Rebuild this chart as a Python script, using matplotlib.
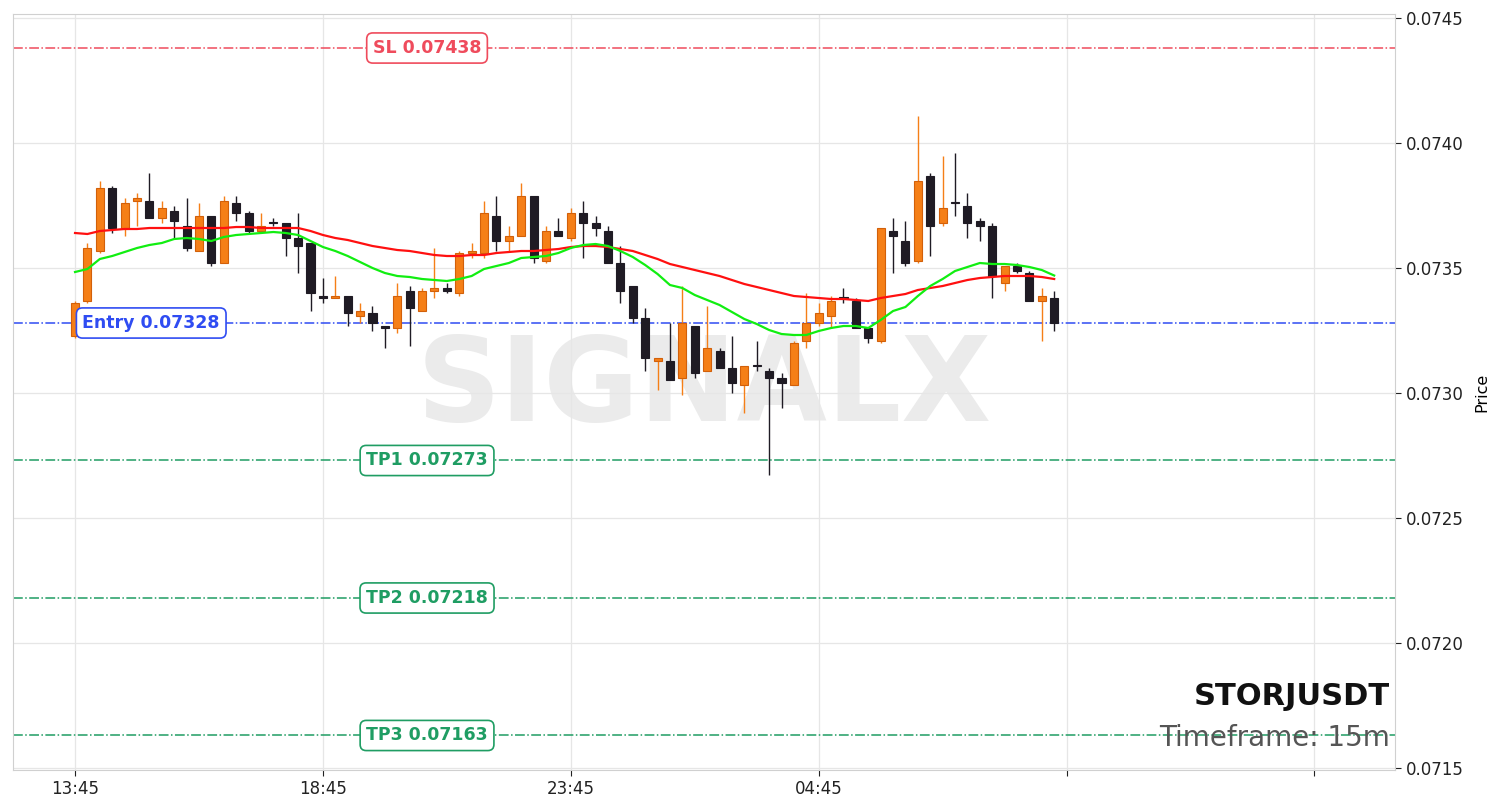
import matplotlib
matplotlib.use('Agg')
import matplotlib.pyplot as plt
import numpy as np

symbol = 'STORJUSDT'
timeframe = '15m'

# 15m candles, first one at 13:45
opens = [0.07323, 0.07337, 0.07357, 0.07382, 0.07366, 0.07377, 0.07377, 0.07370, 0.07373, 0.07367,
         0.07357, 0.07371, 0.07352, 0.07376, 0.07372, 0.07365, 0.07368, 0.07368, 0.07362, 0.07360,
         0.07339, 0.07338, 0.07339, 0.07331, 0.07332, 0.07327, 0.07326, 0.07341, 0.07333, 0.07341,
         0.07342, 0.07340, 0.07356, 0.07356, 0.07371, 0.07361, 0.07363, 0.07379, 0.07353, 0.07365,
         0.07362, 0.07372, 0.07368, 0.07365, 0.07352, 0.07343, 0.07330, 0.07313, 0.07313, 0.07306,
         0.07327, 0.07309, 0.07317, 0.07310, 0.07303, 0.07311, 0.07309, 0.07306, 0.07303, 0.07321,
         0.07328, 0.07331, 0.07338, 0.07337, 0.07326, 0.07321, 0.07365, 0.07361, 0.07353, 0.07387,
         0.07368, 0.07376, 0.07375, 0.07369, 0.07367, 0.07344, 0.07351, 0.07348, 0.07337, 0.07338]
highs = [0.07337, 0.07360, 0.07385, 0.07383, 0.07378, 0.07380, 0.07388, 0.07377, 0.07375, 0.07378,
         0.07376, 0.07371, 0.07379, 0.07379, 0.07373, 0.07372, 0.07370, 0.07368, 0.07372, 0.07360,
         0.07346, 0.07347, 0.07339, 0.07336, 0.07335, 0.07327, 0.07344, 0.07343, 0.07342, 0.07358,
         0.07344, 0.07357, 0.07360, 0.07377, 0.07379, 0.07367, 0.07384, 0.07379, 0.07367, 0.07370,
         0.07374, 0.07377, 0.07371, 0.07367, 0.07359, 0.07343, 0.07334, 0.07314, 0.07328, 0.07343,
         0.07327, 0.07335, 0.07318, 0.07323, 0.07311, 0.07321, 0.07310, 0.07308, 0.07321, 0.07340,
         0.07336, 0.07339, 0.07342, 0.07338, 0.07326, 0.07366, 0.07370, 0.07369, 0.07411, 0.07388,
         0.07395, 0.07396, 0.07380, 0.07370, 0.07368, 0.07351, 0.07352, 0.07349, 0.07342, 0.07341]
lows = [0.07322, 0.07336, 0.07356, 0.07364, 0.07363, 0.07367, 0.07370, 0.07368, 0.07362, 0.07357,
        0.07357, 0.07351, 0.07352, 0.07369, 0.07364, 0.07364, 0.07367, 0.07355, 0.07348, 0.07333,
        0.07336, 0.07338, 0.07327, 0.07328, 0.07325, 0.07318, 0.07324, 0.07319, 0.07333, 0.07338,
        0.07340, 0.07339, 0.07354, 0.07354, 0.07357, 0.07357, 0.07363, 0.07352, 0.07352, 0.07363,
        0.07361, 0.07354, 0.07363, 0.07352, 0.07336, 0.07328, 0.07309, 0.07301, 0.07305, 0.07299,
        0.07306, 0.07309, 0.07310, 0.07300, 0.07292, 0.07309, 0.07267, 0.07294, 0.07303, 0.07318,
        0.07327, 0.07326, 0.07336, 0.07326, 0.07320, 0.07320, 0.07348, 0.07351, 0.07352, 0.07355,
        0.07367, 0.07371, 0.07362, 0.07361, 0.07338, 0.07341, 0.07348, 0.07337, 0.07321, 0.07325]
closes = [0.07336, 0.07358, 0.07382, 0.07366, 0.07376, 0.07378, 0.07370, 0.07374, 0.07369, 0.07358,
          0.07371, 0.07352, 0.07377, 0.07372, 0.07365, 0.07367, 0.07368, 0.07362, 0.07359, 0.07340,
          0.07338, 0.07339, 0.07332, 0.07333, 0.07328, 0.07326, 0.07339, 0.07334, 0.07341, 0.07342,
          0.07341, 0.07356, 0.07357, 0.07372, 0.07361, 0.07363, 0.07379, 0.07354, 0.07365, 0.07363,
          0.07372, 0.07368, 0.07366, 0.07352, 0.07341, 0.07330, 0.07314, 0.07314, 0.07305, 0.07328,
          0.07308, 0.07318, 0.07310, 0.07304, 0.07311, 0.07311, 0.07306, 0.07304, 0.07320, 0.07328,
          0.07332, 0.07337, 0.07338, 0.07326, 0.07322, 0.07366, 0.07363, 0.07352, 0.07385, 0.07367,
          0.07374, 0.07376, 0.07368, 0.07367, 0.07347, 0.07351, 0.07349, 0.07337, 0.07339, 0.07328]

# moving averages as shown on the chart
ma_fast = [0.073484, 0.073496, 0.073536, 0.073548, 0.073564, 0.07358, 0.073592, 0.0736, 0.073616, 0.07362,
           0.073616, 0.073608, 0.073624, 0.073632, 0.073636, 0.07364, 0.073644, 0.07364, 0.073632, 0.073608,
           0.073584, 0.073568, 0.073548, 0.073524, 0.0735, 0.07348, 0.073468, 0.073464, 0.073456, 0.073452,
           0.073448, 0.073456, 0.073468, 0.073496, 0.073508, 0.07352, 0.07354, 0.073544, 0.073548, 0.07356,
           0.07358, 0.073592, 0.073596, 0.073588, 0.073568, 0.073544, 0.073512, 0.073476, 0.073432, 0.07342,
           0.073392, 0.073372, 0.073352, 0.073324, 0.073296, 0.073276, 0.073252, 0.073236, 0.073232, 0.073232,
           0.073248, 0.07326, 0.073268, 0.073268, 0.07326, 0.073292, 0.073328, 0.073344, 0.073388, 0.073428,
           0.073456, 0.073488, 0.073504, 0.07352, 0.073516, 0.073516, 0.073512, 0.073504, 0.073492, 0.07347]
ma_slow = [0.07364, 0.073636, 0.073648, 0.073652, 0.073656, 0.073656, 0.07366, 0.07366, 0.07366, 0.07366,
           0.07366, 0.07366, 0.07366, 0.073664, 0.073664, 0.07366, 0.07366, 0.07366, 0.07366, 0.073648,
           0.073632, 0.07362, 0.073612, 0.0736, 0.073588, 0.07358, 0.073572, 0.073568, 0.07356, 0.073552,
           0.073548, 0.073548, 0.073552, 0.073552, 0.07356, 0.073564, 0.073568, 0.073568, 0.073572, 0.073576,
           0.073584, 0.073588, 0.073588, 0.073584, 0.073576, 0.073568, 0.073552, 0.073536, 0.073516, 0.073504,
           0.073492, 0.07348, 0.073468, 0.073452, 0.073436, 0.073424, 0.073412, 0.0734, 0.073388, 0.073384,
           0.07338, 0.073376, 0.073376, 0.073372, 0.073368, 0.07338, 0.073388, 0.073396, 0.073412, 0.07342,
           0.073428, 0.07344, 0.073452, 0.07346, 0.073464, 0.073468, 0.073468, 0.073468, 0.073464, 0.073456]

entry = 0.07328
stop_loss = 0.07438
take_profits = [0.07273, 0.07218, 0.07163]

x_ticks = [0, 20, 40, 60, 80, 100]
x_labels = ['13:45', '18:45', '23:45', '04:45', '', '']
y_ticks = [0.0715, 0.0720, 0.0725, 0.0730, 0.0735, 0.0740, 0.0745]

UP = '#f57f17'
UP_EDGE = '#d2600a'
DOWN = '#1f1b24'
SL_COLOR = '#ef4b5c'
ENTRY_COLOR = '#2f4cf2'
TP_COLOR = '#1f9d63'

fig = plt.figure(figsize=(15.01, 8.10), dpi=100)
ax = fig.add_axes([0.0087, 0.0494, 0.9207, 0.9333])

o = np.array(opens)
h = np.array(highs)
l = np.array(lows)
c = np.array(closes)
idx = np.arange(len(o))
up = c > o

# wicks
ax.vlines(idx[up], l[up], h[up], color=UP, linewidth=1, zorder=3)
ax.vlines(idx[~up], l[~up], h[~up], color=DOWN, linewidth=1, zorder=3)

# bodies
body = np.maximum(np.abs(c - o), 0.000004)
bottom = np.minimum(o, c)
ax.bar(idx[up], body[up], bottom=bottom[up], width=0.65, color=UP, edgecolor=UP_EDGE, linewidth=0.8, zorder=4)
ax.bar(idx[~up], body[~up], bottom=bottom[~up], width=0.65, color=DOWN, edgecolor=DOWN, linewidth=0.8, zorder=4)

ax.plot(idx, ma_slow, color='#ff1010', linewidth=1.6, zorder=5)
ax.plot(idx, ma_fast, color='#11ee11', linewidth=1.6, zorder=5)

# trade levels
label_box = dict(boxstyle='round,pad=0.35', facecolor='white', linewidth=1.2)
ax.axhline(stop_loss, color=SL_COLOR, linestyle='-.', linewidth=1.1, zorder=2)
ax.text(28.4, stop_loss, f'SL {stop_loss:.5f}', color=SL_COLOR, fontsize=12.5, fontweight='bold',
        ha='center', va='center', bbox={**label_box, 'edgecolor': SL_COLOR}, zorder=6)
ax.axhline(entry, color=ENTRY_COLOR, linestyle='-.', linewidth=1.1, zorder=2)
ax.text(0.6, entry, f'Entry {entry:.5f}', color=ENTRY_COLOR, fontsize=12.5, fontweight='bold',
        ha='left', va='center', bbox={**label_box, 'edgecolor': ENTRY_COLOR}, zorder=6)
for n, tp in enumerate(take_profits, start=1):
    ax.axhline(tp, color=TP_COLOR, linestyle='-.', linewidth=1.1, zorder=2)
    ax.text(28.4, tp, f'TP{n} {tp:.5f}', color=TP_COLOR, fontsize=12.5, fontweight='bold',
            ha='center', va='center', bbox={**label_box, 'edgecolor': TP_COLOR}, zorder=6)

# watermark + titles
ax.text(0.5, 0.505, 'SIGNALX', transform=ax.transAxes, fontsize=84, fontweight='bold',
        color='#ebebeb', ha='center', va='center', zorder=0)
ax.text(0.996, 0.097, symbol, transform=ax.transAxes, fontsize=22, fontweight='bold',
        color='#111111', ha='right', va='center', zorder=7)
ax.text(0.996, 0.042, f'Timeframe: {timeframe}', transform=ax.transAxes, fontsize=20,
        color='#555555', ha='right', va='center', zorder=7)

ax.set_xlim(-5, 106.5)
ax.set_ylim(0.071492, 0.074516)
ax.set_xticks(x_ticks)
ax.set_xticklabels(x_labels)
ax.set_yticks(y_ticks)
ax.set_yticklabels([f'{v:.4f}' for v in y_ticks])
ax.yaxis.tick_right()
ax.yaxis.set_label_position('right')
ax.set_ylabel('Price', fontsize=11.5, labelpad=8)
ax.tick_params(labelsize=12, colors='#222222', length=4)
ax.grid(True, color='#e6e6e6', linewidth=0.9, zorder=0)
ax.set_axisbelow(True)
for s in ax.spines.values():
    s.set_color('#d0d0d0')

fig.savefig('out.png', dpi=100, facecolor='white')
